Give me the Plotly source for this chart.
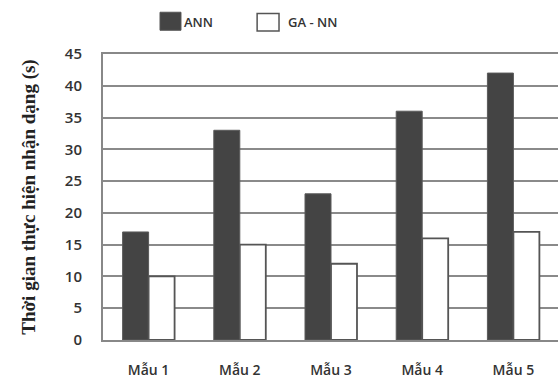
import plotly.graph_objects as go

categories = ["Mẫu 1", "Mẫu 2", "Mẫu 3", "Mẫu 4", "Mẫu 5"]
ann_values = [17, 33, 23, 36, 42]
gann_values = [10, 15, 12, 16, 17]
y_ticks = [0, 5, 10, 15, 20, 25, 30, 35, 40, 45]
series_names = ["ANN", "GA - NN"]

fig = go.Figure()
fig.add_trace(go.Bar(x=categories, y=ann_values, name=series_names[0],
                     marker=dict(color="#444444", line=dict(color="#5a5a5a", width=1))))
fig.add_trace(go.Bar(x=categories, y=gann_values, name=series_names[1],
                     marker=dict(color="#ffffff", line=dict(color="#555555", width=1.8))))

# manual legend (larger swatches like the reference)
fig.add_shape(type="rect", xref="paper", yref="paper", x0=0.125, x1=0.171, y0=1.083, y1=1.146,
              fillcolor="#444444", line=dict(color="#555555", width=1))
fig.add_annotation(xref="paper", yref="paper", x=0.174, y=1.111, xanchor="left", yanchor="middle",
                   text=series_names[0], showarrow=False,
                   font=dict(family="Open Sans", size=13, color="#333333", weight=600))
fig.add_shape(type="rect", xref="paper", yref="paper", x0=0.338, x1=0.386, y0=1.080, y1=1.142,
              fillcolor="#ffffff", line=dict(color="#555555", width=1.5))
fig.add_annotation(xref="paper", yref="paper", x=0.402, y=1.111, xanchor="left", yanchor="middle",
                   text=series_names[1], showarrow=False,
                   font=dict(family="Open Sans", size=13, color="#333333", weight=600))

fig.update_layout(
    width=561, height=379,
    margin=dict(l=103, r=0, t=54, b=37),
    paper_bgcolor="white", plot_bgcolor="white",
    barmode="group", bargap=0.43, bargroupgap=0.0,
    showlegend=False,
    font=dict(family="Open Sans", color="#333333"),
)
fig.update_xaxes(showgrid=False, showline=True, linecolor="#888888", linewidth=2,
                 mirror=True, ticks="", ticklabelstandoff=16,
                 tickfont=dict(family="Open Sans", size=14, color="#333333", weight=600))
fig.update_yaxes(range=[0, 45], tickvals=y_ticks, showgrid=True, gridcolor="#8a8a8a", gridwidth=2,
                 showline=True, linecolor="#888888", linewidth=2, mirror=True, zeroline=False,
                 ticks="", ticklen=0, ticklabelstandoff=16,
                 tickfont=dict(family="Open Sans", size=15, color="#333333", weight=600),
                 title=dict(text="Thời gian thực hiện nhận dạng (s)", standoff=24,
                            font=dict(family="Liberation Serif", size=19, color="#222222", weight="bold")))

fig.write_html("out.html", config={"displayModeBar": False},
               post_script="document.body.style.margin='0';document.body.style.overflow='hidden';")
